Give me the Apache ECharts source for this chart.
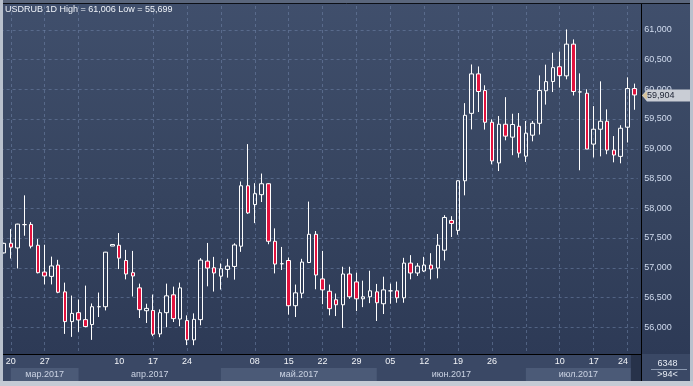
<!DOCTYPE html>
<html><head><meta charset="utf-8">
<script src="https://cdn.jsdelivr.net/npm/echarts@6/dist/echarts.min.js"></script>
<style>html,body{margin:0;padding:0;background:#b8c0cc}#c{width:693px;height:386px}</style>
</head><body><div id="c"></div>
<script>
const dates = [
'2017-03-17','2017-03-20','2017-03-21','2017-03-22','2017-03-23','2017-03-24','2017-03-27','2017-03-28','2017-03-29','2017-03-30','2017-03-31',
'2017-04-03','2017-04-04','2017-04-05','2017-04-06','2017-04-07','2017-04-09','2017-04-10','2017-04-11','2017-04-12','2017-04-13','2017-04-14',
'2017-04-17','2017-04-18','2017-04-19','2017-04-20','2017-04-21','2017-04-24','2017-04-25','2017-04-26','2017-04-27','2017-04-28',
'2017-05-01','2017-05-02','2017-05-03','2017-05-04','2017-05-05','2017-05-08','2017-05-09','2017-05-10','2017-05-11','2017-05-12',
'2017-05-15','2017-05-16','2017-05-17','2017-05-18','2017-05-19','2017-05-22','2017-05-23','2017-05-24','2017-05-25','2017-05-26',
'2017-05-29','2017-05-30','2017-05-31','2017-06-01','2017-06-02','2017-06-05','2017-06-06','2017-06-07','2017-06-08','2017-06-09',
'2017-06-12','2017-06-13','2017-06-14','2017-06-15','2017-06-16','2017-06-19','2017-06-20','2017-06-21','2017-06-22','2017-06-23',
'2017-06-26','2017-06-27','2017-06-28','2017-06-29','2017-06-30','2017-07-03','2017-07-04','2017-07-05','2017-07-06','2017-07-07',
'2017-07-10','2017-07-11','2017-07-12','2017-07-13','2017-07-14','2017-07-17','2017-07-18','2017-07-19','2017-07-20','2017-07-21',
'2017-07-24','2017-07-25'];

const open = [57250,57412,57333,57725,57728,57378,56928,56855,57045,56595,56095,
56245,56128,56045,56345,56345,57365,57378,57122,56917,56662,56278,
56283,55888,56245,56545,56138,56112,55788,56128,57112,57000,
56858,56972,57022,57362,58378,58062,58228,58412,57445,57067,
57122,56362,56572,57088,57562,56812,56605,56462,56378,56895,
56762,56478,56512,56595,56395,56612,56612,56495,57078,56912,
56945,57045,56995,57295,57795,57628,58462,59595,60258,59978,
59445,58762,59412,59195,59378,58875,59228,59428,59975,60130,
60378,60225,60758,59955,59933,59078,59328,59462,58978,58872,
59362,60012];
const close = [57410,57345,57733,57725,57362,56917,56862,57030,56588,56095,56233,
56122,56012,56345,56345,57262,57390,57162,56895,56862,56295,56317,
55883,56245,56528,56145,56662,55788,56133,57128,56995,56912,
56983,57028,57383,58378,57922,58245,58412,57445,57062,57067,
56362,56578,57095,57562,56878,56628,56312,56378,56895,56512,
56478,56512,56612,56412,56628,56612,56495,57078,56912,57028,
57045,56978,57378,57845,57745,58462,59562,60258,59962,59445,
58795,59412,59212,59408,58928,59262,59428,59978,60128,60363,
60228,60758,59962,59955,58995,59328,59462,58978,58895,59345,
60012,59904];
const low = [57240,57155,56988,57538,57325,56905,56720,56720,56572,55888,55838,
55922,56000,55788,56172,56283,57365,56978,56805,56517,56155,56072,
55850,55833,56000,56088,56017,55700,55699,56033,56688,56600,
56633,56833,56800,57267,57905,57750,58105,57395,56905,56962,
56212,56172,56488,57078,56638,56388,56200,56188,55988,56478,
56272,56338,56405,56105,56222,56395,56412,56412,56805,56862,
56928,56805,56822,57122,57517,57555,58217,59325,59617,59322,
58738,58625,59142,58892,58850,58778,59125,59238,59742,59953,
60028,60167,59895,58638,58995,58853,58872,58908,58772,58755,
59105,59655];
const high = [57420,57650,57740,58217,57767,57483,57387,57187,57133,56750,56533,
56467,56700,56400,56583,57267,57390,57583,57300,57283,56733,56395,
56550,56300,56733,56683,56750,56200,56233,57162,57417,57183,
57072,57150,57412,58450,59078,58422,58583,58420,57662,57350,
57172,56717,57150,58112,57617,57283,56717,56567,57017,57017,
56917,56783,56950,56728,56850,56733,56767,57167,57212,57078,
57183,57245,57567,57883,57867,58470,59767,60417,60383,60067,
59495,59550,59867,59588,59600,59467,59467,60233,60413,60613,
60633,61006,60838,60267,60000,59717,60133,59662,59213,59395,
60200,60095];

const dayLabelIdx = [1,6,17,22,27,37,42,47,52,57,62,67,72,82,87,92];
const gridIdx = [1,6,11,22,27,32,37,42,47,52,57,62,67,72,77,82,87,92];
const monthNames = ['мар.2017','апр.2017','май.2017','июн.2017','июл.2017'];
const monthStart = [1,11,32,55,77];
const monthEnd = [11,32,55,77,92];
const yMin = 55500, yMax = 61500, yStep = 500;
const footerNumber = '6348';

const FONT = '"Liberation Sans", Arial, sans-serif';
const fmt = v => String(v).replace(/\B(?=(\d{3})+(?!\d))/g, ',');
const gridColor = 'rgba(112,132,168,0.55)';

const chart = echarts.init(document.getElementById('c'), null, {renderer:'canvas', width:693, height:386});
const ohlc = dates.map((d,i)=>[open[i], close[i], low[i], high[i]]);
const nY = Math.round((yMax - yMin)/yStep) + 1;
const hColors = [];
for (let k = 0; k < nY; k++) hColors.push((k === 0 || k === nY-1) ? 'rgba(0,0,0,0)' : gridColor);

const option = {
  animation: false,
  backgroundColor: new echarts.graphic.LinearGradient(0,0,0,1,[
    {offset:0, color:'#404f6c'},{offset:0.5, color:'#36445f'},{offset:0.92, color:'#2d3a56'},{offset:1, color:'#2b3753'}]),
  title: {
    text: 'USDRUB 1D High = ' + fmt(Math.max(...high)) + ' Low = ' + fmt(Math.min(...low)),
    left: 5, top: 5, padding: 0,
    textStyle: {color:'#eef2f8', fontSize:9, fontWeight:'normal', fontFamily:FONT}
  },
  grid: {left:0.61, top:-3, width:637.08, height:360},
  xAxis: [
    {type:'category', data:dates, boundaryGap:true,
     axisLine:{show:false}, axisTick:{show:false}, axisLabel:{show:false},
     splitLine:{show:true, alignWithLabel:true, interval:(i)=>gridIdx.includes(i),
       lineStyle:{color:gridColor, type:[3,3], width:1}}},
    {type:'category', data:dates, boundaryGap:true, position:'bottom', offset:-3, z:120,
     axisLine:{show:false}, axisTick:{show:false}, splitLine:{show:false},
     axisLabel:{interval:(i)=>dayLabelIdx.includes(i), margin:3,
       color:'#f2f4f8', fontSize:9, fontFamily:FONT,
       formatter:(v, i)=> i === dates.length-2 ? '{r|' + v.slice(8) + '}' : v.slice(8),
       rich:{r:{padding:[0,9,0,0], color:'#f2f4f8', fontSize:9, fontFamily:FONT}}}}
  ],
  yAxis: {type:'value', position:'right', min:yMin, max:yMax, interval:yStep, offset:3.3, scale:true,
    axisLine:{show:false}, axisTick:{show:false},
    splitLine:{show:true, lineStyle:{color:hColors, type:[3,3], width:1}},
    axisLabel:{margin:3.3, color:'#d0dbee', fontSize:9, fontFamily:FONT,
      formatter:(v)=> (v <= yMin || v >= yMax) ? '' : fmt(v)}},
  series: [{type:'candlestick', xAxisIndex:0, yAxisIndex:0, data:ohlc, barWidth:4,
    itemStyle:{color:'rgba(0,0,0,0)', color0:'#e2123e', borderColor:'#ffffff', borderColor0:'#ffffff',
      borderColorDoji:'#ffffff', borderWidth:1}}]
};
chart.setOption(option);

const px = i => chart.convertToPixel({xAxisIndex:0}, dates[i]);
const py = v => chart.convertToPixel({yAxisIndex:0}, v);
const step = px(1) - px(0);
const els = [];
const Z = 100;
const dateBg = '#3a4865', lightBox = '#4b5a77';
// date row and month row
els.push({type:'rect', shape:{x:3, y:354, width:638, height:27}, style:{fill:dateBg}, z:Z});
const lastEdge = px(dates.length-2) + step/2;
for (let k = 0; k < monthNames.length; k++) {
  const x0 = px(monthStart[k]);
  const x1 = (k === monthNames.length-1) ? lastEdge : px(monthEnd[k]);
  if (k % 2 === 0) els.push({type:'rect', shape:{x:x0, y:368, width:x1-x0, height:13}, style:{fill:lightBox}, z:Z+1});
  els.push({type:'text', x:(x0+x1)/2, y:374.5, style:{text:monthNames[k], fill:'#cbd3e3', font:'9px ' + FONT, align:'center', verticalAlign:'middle'}, z:Z+2});
}
// dark block for current bar area
els.push({type:'rect', shape:{x:lastEdge, y:355, width:641-lastEdge, height:26}, style:{fill:'#27324a'}, z:Z+1});
// bottom-right box
els.push({type:'rect', shape:{x:641, y:354, width:49, height:27}, style:{fill:'#3a4865'}, z:Z});
els.push({type:'text', x:667.5, y:363.5, style:{text:footerNumber, fill:'#e6ebf4', font:'9px ' + FONT, align:'center', verticalAlign:'middle'}, z:Z+2});
els.push({type:'line', shape:{x1:651, y1:369.5, x2:687, y2:369.5}, style:{stroke:'#8c9ab2', lineWidth:1}, z:Z+2});
els.push({type:'text', x:667.5, y:374.8, style:{text:'>' + dates.length + '<', fill:'#e6ebf4', font:'9px ' + FONT, align:'center', verticalAlign:'middle'}, z:Z+2});
// frame
els.push({type:'rect', shape:{x:0, y:0, width:3, height:386}, style:{fill:'#b9c1cd'}, z:Z+5});
els.push({type:'rect', shape:{x:690, y:0, width:3, height:386}, style:{fill:'#b9c1cd'}, z:Z+5});
els.push({type:'rect', shape:{x:0, y:381, width:693, height:5}, style:{fill:'#c4cad4'}, z:Z+5});
els.push({type:'rect', shape:{x:3, y:0, width:687, height:3.5}, style:{fill:'#5a667c'}, z:Z+5});
els.push({type:'line', shape:{x1:3, y1:3.5, x2:690, y2:3.5}, style:{stroke:'#0c0f16', lineWidth:1}, z:Z+6});
// axis lines
els.push({type:'line', shape:{x1:641.5, y1:4, x2:641.5, y2:381}, style:{stroke:'#000000', lineWidth:1}, z:Z+6});
els.push({type:'line', shape:{x1:3, y1:354.5, x2:641, y2:354.5}, style:{stroke:'#000000', lineWidth:1}, z:Z+6});
// last price tag
const lastClose = close[close.length-1];
const ty = Math.round(py(lastClose)) + 0.5;
els.push({type:'polygon', shape:{points:[[642,ty],[647,ty-6],[690,ty-6],[690,ty+6],[647,ty+6]]}, style:{fill:'#c9cdd5'}, z:Z+3});
els.push({type:'polygon', shape:{points:[[642,ty],[647,ty-4],[647,ty+4]]}, style:{fill:'#d6c49e'}, z:Z+4});
els.push({type:'text', x:647, y:ty, style:{text:fmt(lastClose), fill:'#1c2233', font:'9px ' + FONT, align:'left', verticalAlign:'middle'}, z:Z+4});

chart.setOption({graphic:{elements:els}});
</script></body></html>
